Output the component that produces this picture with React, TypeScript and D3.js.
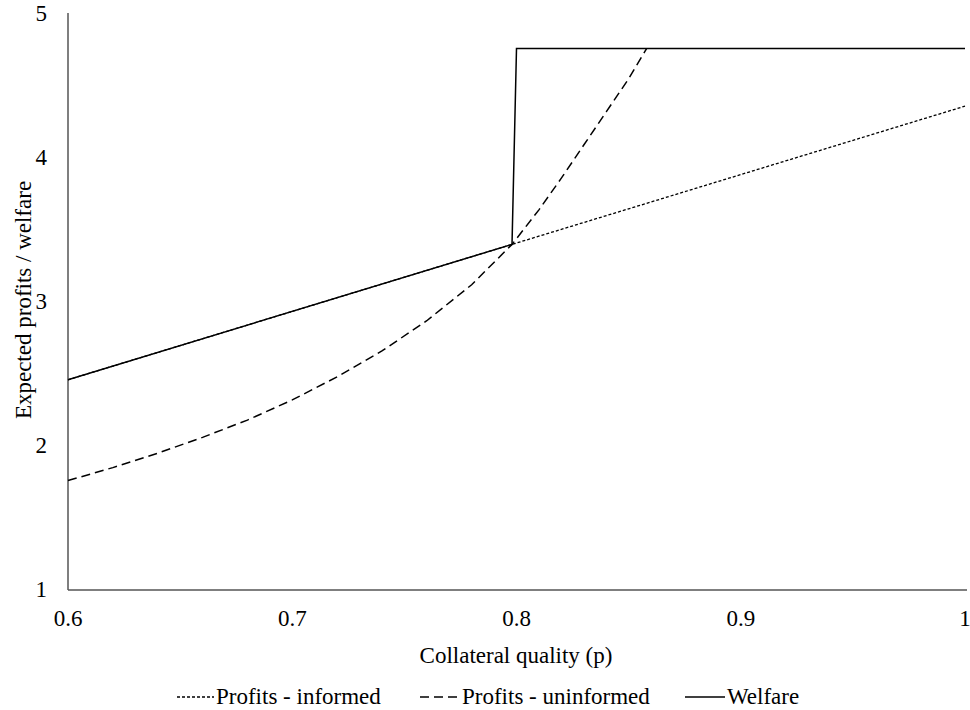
import React, { useEffect, useRef } from "react";
import * as d3 from "d3";

const xTicks = [0.6, 0.7, 0.8, 0.9, 1];
const xTickLabels = ["0.6", "0.7", "0.8", "0.9", "1"];
const yTicks = [1, 2, 3, 4, 5];

const informedP = [0.6, 0.798, 1.0];
const informedV = [2.46, 3.4, 4.36];

const uninformedP = [0.6, 0.62, 0.64, 0.66, 0.68, 0.7, 0.72, 0.74, 0.76, 0.78, 0.798, 0.81, 0.82, 0.83, 0.84, 0.85, 0.858];
const uninformedV = [1.76, 1.85, 1.95, 2.06, 2.18, 2.32, 2.48, 2.66, 2.87, 3.12, 3.4, 3.64, 3.86, 4.09, 4.32, 4.55, 4.76];

const welfareP = [0.6, 0.798, 0.8, 1.0];
const welfareV = [2.46, 3.4, 4.76, 4.76];

const legendLabels = ["Profits - informed", "Profits - uninformed", "Welfare"];

export default function App() {
  const ref = useRef<SVGSVGElement>(null);
  const W = 970, H = 710;
  const left = 68, right = 965, top = 14, bottom = 590;
  const fs = 23;

  useEffect(() => {
    const svg = d3.select(ref.current);
    svg.selectAll("*").remove();
    const x = d3.scaleLinear().domain([0.6, 1]).range([left, right]);
    const y = d3.scaleLinear().domain([1, 5]).range([bottom, top]);
    const line = d3.line<[number, number]>().x(d => x(d[0])).y(d => y(d[1]));
    const zip = (a: number[], b: number[]) => a.map((p, i) => [p, b[i]] as [number, number]);
    const FF = "serif";

    const styles = [
      { dash: "3,2", w: 1.3 },
      { dash: "9,5", w: 1.5 },
      { dash: "none", w: 1.5 },
    ];
    const legendPos = [
      { x0: 177, x1: 214, tx: 216 },
      { x0: 420, x1: 460, tx: 462 },
      { x0: 685, x1: 725, tx: 727 },
    ];

    svg.append("rect").attr("width", W).attr("height", H).attr("fill", "#fff");
    svg.append("line").attr("x1", left).attr("x2", left).attr("y1", top - 1).attr("y2", bottom)
      .attr("stroke", "#555").attr("stroke-width", 1.5);
    svg.append("line").attr("x1", left).attr("x2", right + 2).attr("y1", bottom).attr("y2", bottom)
      .attr("stroke", "#555").attr("stroke-width", 1.5);

    const txt = (s: d3.Selection<SVGTextElement, any, any, any>) =>
      s.attr("font-family", FF).style("font-family", FF).attr("font-size", fs).attr("fill", "#000");

    yTicks.forEach(t => {
      svg.append("text").attr("x", 47).attr("y", y(t) + 7).attr("text-anchor", "end").call(txt).text(String(t));
    });
    xTicks.forEach((t, i) => {
      svg.append("text").attr("x", x(t)).attr("y", 626).attr("text-anchor", "middle").call(txt).text(xTickLabels[i]);
    });
    svg.append("text").attr("x", 516).attr("y", 663).attr("text-anchor", "middle").call(txt).text("Collateral quality (p)");
    svg.append("text").attr("transform", "translate(31,300) rotate(-90)").attr("text-anchor", "middle").call(txt)
      .text("Expected profits / welfare");

    const series = [zip(informedP, informedV), zip(uninformedP, uninformedV), zip(welfareP, welfareV)];
    series.forEach((s, i) => {
      svg.append("path").attr("d", line(s) || "").attr("fill", "none").attr("stroke", "#000")
        .attr("stroke-width", styles[i].w).attr("stroke-dasharray", styles[i].dash);
    });

    legendLabels.forEach((l, i) => {
      svg.append("line").attr("x1", legendPos[i].x0).attr("x2", legendPos[i].x1).attr("y1", 697).attr("y2", 697)
        .attr("stroke", "#000").attr("stroke-width", styles[i].w).attr("stroke-dasharray", styles[i].dash);
      svg.append("text").attr("x", legendPos[i].tx).attr("y", 704).call(txt).text(l);
    });
  }, []);

  return <svg ref={ref} width={W} height={H} style={{ position: "absolute", left: 0, top: 0 }} />;
}
